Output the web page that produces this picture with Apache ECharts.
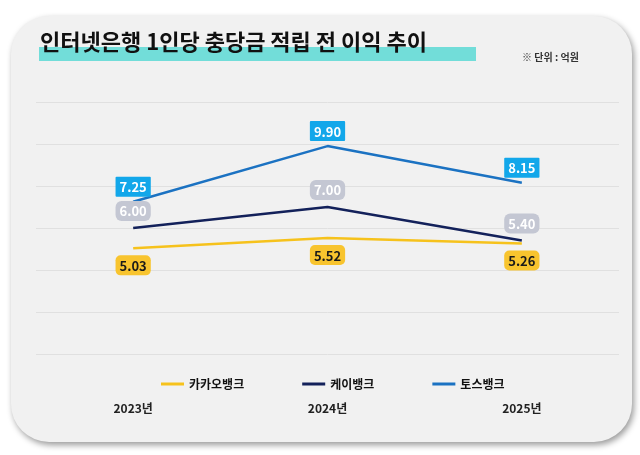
<!DOCTYPE html>
<html>
<head>
<meta charset="utf-8">
<script src="https://cdn.jsdelivr.net/npm/echarts@6/dist/echarts.min.js"></script>
<style>
  html, body { margin: 0; padding: 0; background: #fff; }
  #chart { width: 640px; height: 455px; }
</style>
</head>
<body>
<div id="chart"></div>
<script>
const years = ["2023년", "2024년", "2025년"];
const kakao = [5.03, 5.52, 5.26];
const kbank = [6.00, 7.00, 5.40];
const toss = [7.25, 9.90, 8.15];

const FONT = "Noto Sans CJK KR";

const chart = echarts.init(document.getElementById("chart"));

// label box for each bank
const boxLabel = (position, bg, color, radius, distance) => ({
    show: true,
    position: position,
    distance: distance,
    formatter: p => p.value.toFixed(2),
    backgroundColor: bg,
    color: color,
    borderRadius: radius,
    padding: [4, 4, 3, 4],
    fontFamily: FONT,
    fontWeight: "bold",
    fontSize: 13
});

chart.setOption({
    backgroundColor: "#ffffff",
    textStyle: { fontFamily: FONT },
    graphic: [
        {
            type: "rect",
            z: -10,
            shape: { x: 11, y: 16, width: 621, height: 426, r: 38 },
            style: {
                fill: "#f1f1f1",
                shadowBlur: 6,
                shadowOffsetX: 2,
                shadowOffsetY: 3,
                shadowColor: "rgba(0,0,0,0.4)"
            }
        },
        {
            type: "rect",
            z: -5,
            shape: { x: 39, y: 47, width: 437, height: 14 },
            style: { fill: "#72ddd9" }
        }
    ],
    title: [
        {
            text: "인터넷은행 1인당 충당금 적립 전 이익 추이",
            left: 40,
            top: 31,
            padding: 0,
            textStyle: { fontFamily: FONT, fontSize: 22, fontWeight: "bold", color: "#111" }
        },
        {
            text: "※ 단위 : 억원",
            left: 522,
            top: 52,
            padding: 0,
            textStyle: { fontFamily: FONT, fontSize: 10, fontWeight: "bold", color: "#333" }
        }
    ],
    legend: {
        left: 156,
        top: 373,
        itemWidth: 23,
        itemHeight: 3,
        itemGap: 58,
        icon: "rect",
        textStyle: { fontFamily: FONT, fontSize: 12, fontWeight: "bold", color: "#111" },
        data: ["카카오뱅크", "케이뱅크", "토스뱅크"]
    },
    grid: { left: 36, right: 21, top: 102, bottom: 101 },
    xAxis: {
        type: "category",
        data: years,
        axisLine: { show: false },
        axisTick: { show: false },
        axisLabel: {
            margin: 48,
            fontFamily: FONT,
            fontSize: 12,
            fontWeight: "bold",
            color: "#222"
        }
    },
    yAxis: {
        type: "value",
        min: 0,
        max: 12,
        interval: 2,
        axisLabel: { show: false },
        axisLine: { show: false },
        axisTick: { show: false },
        splitLine: { lineStyle: { color: "#e0e0e0", width: 1 } }
    },
    series: [
        {
            name: "카카오뱅크",
            type: "line",
            data: kakao,
            symbol: "circle",
            symbolSize: 0,
            color: "#f6c21c",
            lineStyle: { width: 2.5, color: "#f6c21c" },
            label: boxLabel("bottom", "#f8c42e", "#1a1a1a", 5, 7)
        },
        {
            name: "케이뱅크",
            type: "line",
            data: kbank,
            symbol: "circle",
            symbolSize: 0,
            color: "#13215a",
            lineStyle: { width: 2.5, color: "#13215a" },
            label: boxLabel("top", "#c4c7d3", "#ffffff", 6, 7)
        },
        {
            name: "토스뱅크",
            type: "line",
            data: toss,
            symbol: "circle",
            symbolSize: 0,
            color: "#1b72c2",
            lineStyle: { width: 2.5, color: "#1b72c2" },
            label: boxLabel("top", "#12a7ea", "#ffffff", 1, 5)
        }
    ]
});
</script>
</body>
</html>
